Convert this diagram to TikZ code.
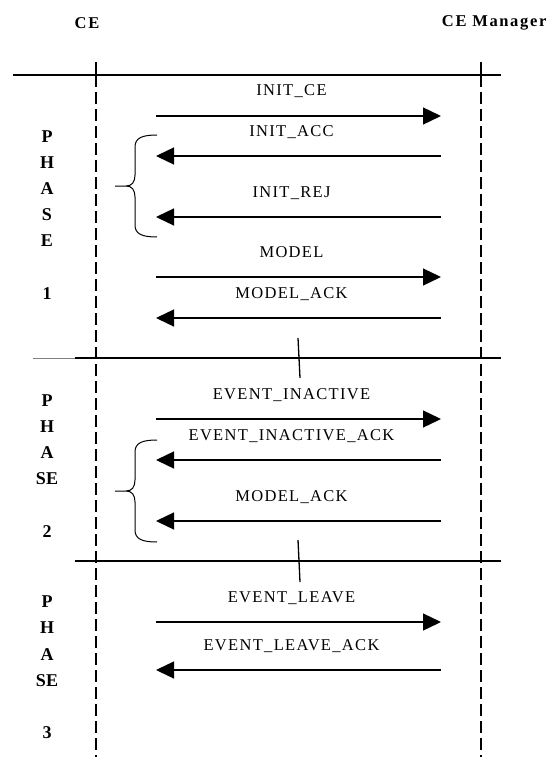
\documentclass[tikz,border=0pt]{standalone}
\usepackage{fontspec}
\setmainfont{Liberation Serif}
\usetikzlibrary{arrows.meta,positioning}
\tikzset{
  every picture/.style = {
    x = 1pt,
    y = -1pt,
    line width = 1.3pt,
  }
  ,
  lifeline/.style = {
    dash pattern = on 12pt off 5pt,
    line width = 1.1pt
  }
  ,
  msg/.style = {
    -{Triangle[length=18pt,width=17pt]},
    line width = 1.3pt
  }
  , % labels of messages
  label-msg/.style = {
    anchor = base,
    yshift = 20pt,
    xshift = -7pt,
    inner sep = 0pt,
    font = \fontsize{16.5}{19}\selectfont\addfontfeature{LetterSpace=8}
  }
  , % heads of the lifelines
  head/.style = {
    inner sep = 0pt,
    font = \fontsize{16.5}{19}\selectfont\bfseries\addfontfeature{LetterSpace=10}
  }
  , % letters of PHASE
  phase/.style = {
    inner sep = 0pt,
    font = \fontsize{18}{21}\selectfont\bfseries
  }
  ,
  phase brace/.pic = {
    \draw[line width=1pt] (0,0) .. controls (-15,0) and (-22,3) .. (-22,12)
      -- (-22,40) .. controls (-22,47) and (-25,51) .. (-31,51) -- (-42,51)
      (-31,51) .. controls (-25,51) and (-22,55) .. (-22,62)
      -- (-22,90) .. controls (-22,99) and (-15,102) .. (0,102);
  }
}

\begin{document}
\begin{tikzpicture}
\useasboundingbox (0,0) rectangle (549,757);
% heads
\node[head] (ce) at (87,23) {CE};
\node[head, anchor=east] (mgr) at (547,23) {CE Manager};
% lifelines
\coordinate (ce-top) at (96,62);
\coordinate (ce-mid) at (96,75);
\coordinate (ce-bot) at (96,757);
\coordinate (mgr-top) at (481,62);
\coordinate (mgr-mid) at (481,75);
\coordinate (mgr-bot) at (481,757);
\draw (ce-top) -- (ce-mid);
\draw (mgr-top) -- (mgr-mid);
\draw[lifeline] (ce-mid) -- (ce-bot);
\draw[lifeline] (mgr-mid) -- (mgr-bot);
% phase rules
\draw (13,75) -- (501,75);
\draw[gray, line width=0.6pt] (33,358) -- (75,358);
\draw (75,358) -- (501,358);
\draw (298,338) -- (300,378);
\draw (75,561) -- (501,561);
\draw (298,540) -- (300,582);
% message ends
\foreach \i/\yy in {1/116,2/156,3/217,4/277,5/318,6/419,7/460,8/521,9/622,10/670}{
  \coordinate (a-\i) at (156,\yy);
  \coordinate (b-\i) at (441,\yy);
}
\path (a-1) edge[msg] node[label-msg] (t1) {INIT\_CE} (b-1);
\path (b-2) edge[msg] node[label-msg] (t2) {INIT\_ACC} (a-2);
\path (b-3) edge[msg] node[label-msg] (t3) {INIT\_REJ} (a-3);
\path (a-4) edge[msg] node[label-msg] (t4) {MODEL} (b-4);
\path (b-5) edge[msg] node[label-msg] (t5) {MODEL\_ACK} (a-5);
\path (a-6) edge[msg] node[label-msg] (t6) {EVENT\_INACTIVE} (b-6);
\path (b-7) edge[msg] node[label-msg] (t7) {EVENT\_INACTIVE\_ACK} (a-7);
\path (b-8) edge[msg] node[label-msg] (t8) {MODEL\_ACK} (a-8);
\path (a-9) edge[msg] node[label-msg] (t9) {EVENT\_LEAVE} (b-9);
\path (b-10) edge[msg] node[label-msg] (t10) {EVENT\_LEAVE\_ACK} (a-10);
% braces
\pic at (157,135) {phase brace};
\pic at (157,440) {phase brace};
% PHASE 1, 2, 3
\foreach \ch/\yy [count=\i] in {P/137,H/163,A/189,S/215,E/241,1/294}
  \node[phase] (pa-\i) at (47,\yy) {\ch};
\foreach \ch/\yy [count=\i] in {P/401,H/427,A/453,SE/479,2/532}
  \node[phase] (pb-\i) at (47,\yy) {\ch};
\foreach \ch/\yy [count=\i] in {P/602,H/628,A/655,SE/681,3/733}
  \node[phase] (pc-\i) at (47,\yy) {\ch};
\end{tikzpicture}
\end{document}
